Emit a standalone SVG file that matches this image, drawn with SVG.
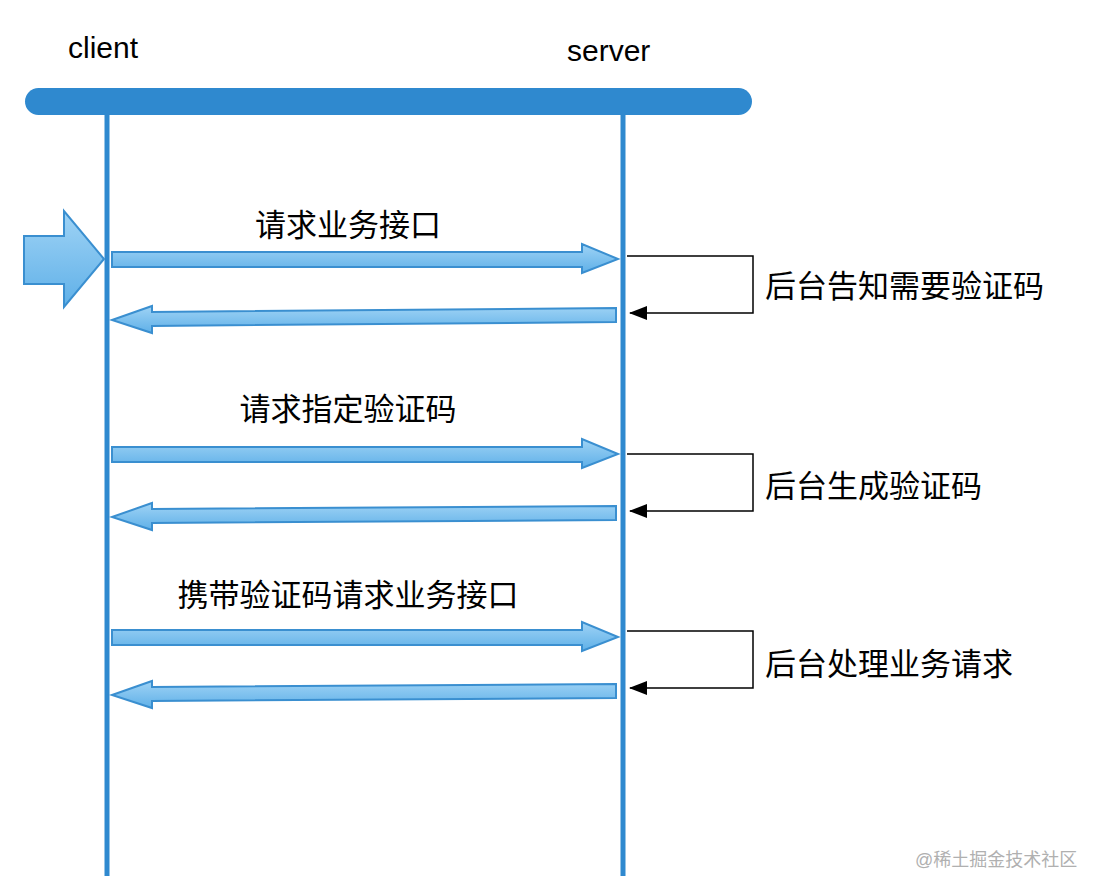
<svg xmlns="http://www.w3.org/2000/svg" width="1102" height="894" viewBox="0 0 1102 894">
<defs>
<linearGradient id="g" x1="0" y1="0" x2="0" y2="1"><stop offset="0" stop-color="#9fd3f5"/><stop offset="1" stop-color="#5fb0e8"/></linearGradient>
<marker id="ah" markerWidth="18" markerHeight="14" refX="17" refY="7" orient="auto" markerUnits="userSpaceOnUse" viewBox="0 0 18 14"><path d="M0,0 L18,7 L0,14 Z" fill="#000"/></marker>
<style>
.t{font-family:"Liberation Sans","Noto Sans CJK SC",sans-serif;font-size:31px;fill:#000}
.ar{fill:url(#g);stroke:#3a8fd0;stroke-width:2}
.ll{stroke:#2f89cf;stroke-width:5}
.lp{fill:none;stroke:#000;stroke-width:1.5;marker-end:url(#ah)}
</style>
</defs>
<rect width="1102" height="894" fill="#fff"/>
<g id="client"><text class="t" x="68" y="58" style="font-size:30px">client</text><line class="ll" x1="107" y1="110" x2="107" y2="876"/></g>
<g id="server"><text class="t" x="567" y="61" style="font-size:30px">server</text><line class="ll" x1="623" y1="110" x2="623" y2="876"/></g>
<g id="bar"><rect x="25" y="88" width="727" height="27" rx="13.5" fill="#2f89cf"/></g>
<g id="start"><path class="ar" d="M24,236 H64 V211 L104,259 L64,307 V284 H24 Z"/></g>
<g id="connectors">
<path class="ar" d="M112,252 H582 V244 L618,259 L582,273 V267 H112 Z"/>
<path class="ar" d="M616,308 V322 L152,326 V333 L112,320 L152,306 V312 Z"/>
<path class="ar" d="M112,447 H582 V439 L618,454 L582,468 V462 H112 Z"/>
<path class="ar" d="M616,506 V520 L152,523 V530 L112,517 L152,503 V509 Z"/>
<path class="ar" d="M112,630 H582 V622 L618,637 L582,651 V645 H112 Z"/>
<path class="ar" d="M616,684 V698 L152,701 V708 L112,695 L152,681 V687 Z"/>
<path class="lp" d="M627,256 H753 V313 H630"/>
<path class="lp" d="M627,454 H753 V511 H630"/>
<path class="lp" d="M627,631 H753 V688 H630"/>
</g>
<g id="labels">
<text class="t" x="348" y="236" text-anchor="middle">请求业务接口</text>
<text class="t" x="348" y="420" text-anchor="middle">请求指定验证码</text>
<text class="t" x="348" y="606" text-anchor="middle">携带验证码请求业务接口</text>
<text class="t" x="765" y="297">后台告知需要验证码</text>
<text class="t" x="765" y="497">后台生成验证码</text>
<text class="t" x="765" y="675">后台处理业务请求</text>
</g>
<text x="915" y="866" style="font-family:'Liberation Sans','Noto Sans CJK SC',sans-serif;font-size:18px;fill:#b0b0b0">@稀土掘金技术社区</text>
</svg>
